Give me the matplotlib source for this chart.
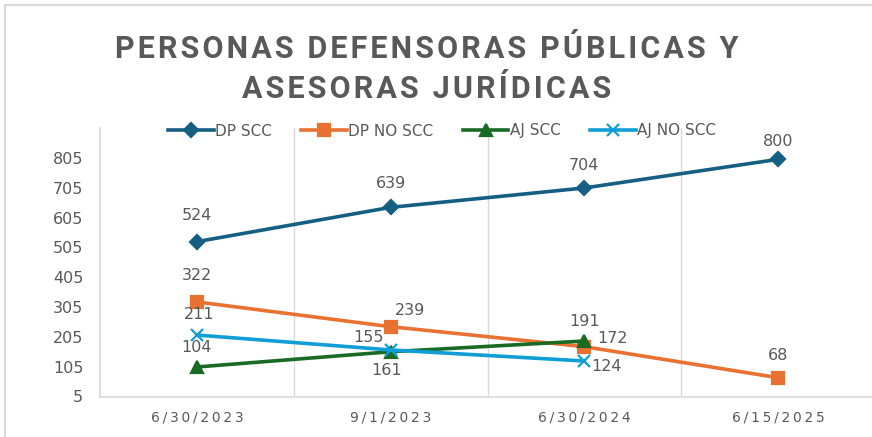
import numpy as np
import matplotlib.pyplot as plt
from matplotlib.patches import Rectangle

# Chart data
dates = ["6/30/2023", "9/1/2023", "6/30/2024", "6/15/2025"]
dp_scc = [524, 639, 704, 800]
dp_no_scc = [322, 239, 172, 68]
aj_scc = [104, 155, 191, np.nan]
aj_no_scc = [211, 161, 124, np.nan]
y_ticks = [5, 105, 205, 305, 405, 505, 605, 705, 805]
title_lines = ["PERSONAS DEFENSORAS PÚBLICAS Y", "ASESORAS JURÍDICAS"]

text_gray = "#595959"
grid_gray = "#D9D9D9"

fig = plt.figure(figsize=(8.72, 4.37), dpi=100)
ax = fig.add_axes([100 / 872, 1 - 396.5 / 437, 775 / 872, (396.5 - 128) / 437])

x = np.arange(len(dates))

series = [
    ("DP SCC", dp_scc, "#156082", "D", 7),
    ("DP NO SCC", dp_no_scc, "#E97132", "s", 9),
    ("AJ SCC", aj_scc, "#196B24", "^", 9),
    ("AJ NO SCC", aj_no_scc, "#0F9ED5", "x", 9),
]
for name, vals, color, marker, ms in series:
    ax.plot(x, vals, color=color, lw=2.6, marker=marker, ms=ms,
            mew=1.6, label=name, zorder=3)

# Label offsets in points (dx, dy) for each series
offsets = {
    "DP SCC": [(0, 19), (0, 17), (0, 16), (0, 13)],
    "DP NO SCC": [(0, 19), (14, 12), (20, 6), (0, 16)],
    "AJ SCC": [(0, 14), (-16, 10), (0, 14), None],
    "AJ NO SCC": [(2, 15), (-3, -15), (16, -4), None],
}
for name, vals, color, marker, ms in series:
    for i, v in enumerate(vals):
        if np.isnan(v):
            continue
        ax.annotate(f"{int(v)}", (x[i], v), xytext=offsets[name][i],
                    textcoords="offset points", ha="center", va="center",
                    fontsize=11.5, color=text_gray, zorder=4)

ax.set_xlim(-0.5, len(dates) - 0.5)
ax.set_ylim(5, 905)
ax.set_yticks(y_ticks)
ax.set_xticks(x)
ax.set_xticklabels(["\u2009".join(d) for d in dates])
ax.set_xticks(np.arange(0.5, len(dates) - 0.5), minor=True)
ax.grid(True, which="minor", axis="x", color=grid_gray, lw=1)
ax.tick_params(which="both", length=0)
ax.tick_params(axis="y", labelsize=11.5, labelcolor=text_gray, pad=12)
ax.tick_params(axis="x", labelsize=10, labelcolor=text_gray, pad=10)
for s in ["top", "right"]:
    ax.spines[s].set_visible(False)
for s in ["left", "bottom"]:
    ax.spines[s].set_color(grid_gray)
    ax.spines[s].set_linewidth(1.2)

leg = ax.legend(loc="center", bbox_to_anchor=(342 / 775, 1 - 3 / 268.5),
                ncol=4, frameon=False, fontsize=11, handlelength=3.0,
                handletextpad=0.1, columnspacing=1.9, borderaxespad=0)
for t in leg.get_texts():
    t.set_color(text_gray)

for k, line in enumerate(title_lines):
    fig.text(427 / 872, 1 - (49 + 40 * k) / 437, "\u200a".join(line),
             ha="center", va="center", fontsize=22, fontweight="bold",
             color=text_gray, family="Roboto")

# Outer chart border
fig.add_artist(Rectangle((5 / 872, -0.1), 1.2, 1 - 5 / 437 + 0.1,
                         transform=fig.transFigure, fill=False,
                         ec=grid_gray, lw=1.5))

fig.savefig("out.png", dpi=100)
